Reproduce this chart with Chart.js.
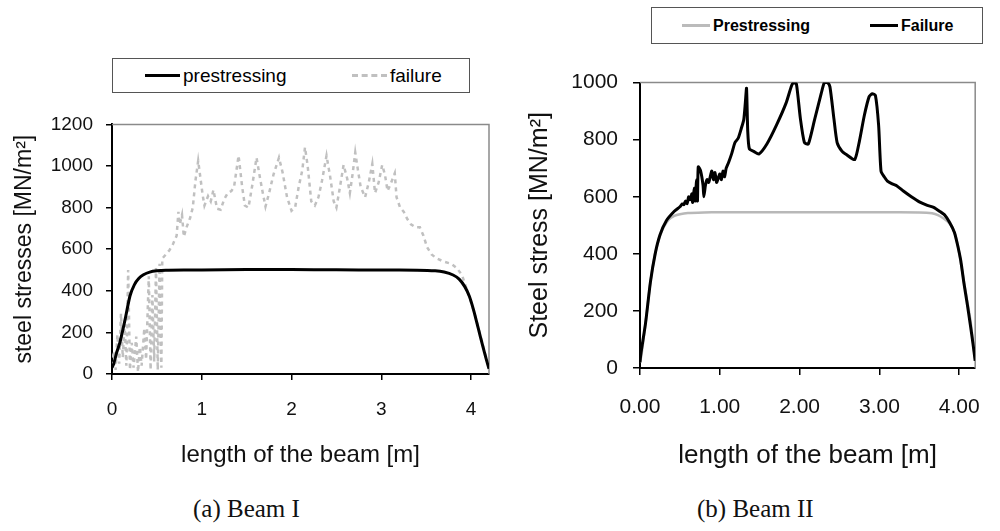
<!DOCTYPE html>
<html>
<head>
<meta charset="utf-8">
<script src="https://cdn.jsdelivr.net/npm/chart.js@4.4.1/dist/chart.umd.min.js"></script>
<style>
  body { margin: 0; background: #fff; width: 1000px; height: 531px; position: relative; overflow: hidden; }
  canvas { position: absolute; }
  .legend { position: absolute; border: 1.5px solid #555; box-sizing: border-box; background: #fff;
            font-family: 'Liberation Sans', Arial, sans-serif; color: #000; }
  .item { position: absolute; top: 0; height: 100%; display: flex; align-items: center; }
  .swatch { display: inline-block; width: 35px; height: 0; margin-right: 3px; }
  .caption { position: absolute; font-family: 'Liberation Serif', 'DejaVu Serif', serif; font-size: 25px; color: #111; }
</style>
</head>
<body>

<div class="legend" id="legA" style="left:112px; top:58px; width:358px; height:35px; font-size:19px;">
  <div class="item" style="left:32px;"><span class="swatch" style="border-top:3px solid #000;"></span>prestressing</div>
  <div class="item" style="left:239px;"><span class="swatch" style="border-top:3px dashed #c0c0c0;"></span>failure</div>
</div>
<div class="legend" id="legB" style="left:651px; top:7px; width:332px; height:37px; font-size:16px; font-weight:bold;">
  <div class="item" style="left:30px;"><span class="swatch" style="border-top:3px solid #bbb; width:28px;"></span>Prestressing</div>
  <div class="item" style="left:218px;"><span class="swatch" style="border-top:3px solid #000; width:28px;"></span>Failure</div>
</div>

<canvas id="chartA" width="500" height="380" style="left:0; top:100px;"></canvas>
<canvas id="chartB" width="500" height="425" style="left:500px; top:55px;"></canvas>

<div class="caption" style="left:193px; top:495px;">(a) Beam I</div>
<div class="caption" style="left:697px; top:495px;">(b) Beam II</div>

<script>
// Beam I
const xTicksA = [0, 1, 2, 3, 4];
const xTickLabelsA = ['0', '1', '2', '3', '4'];
const yTicksA = [0, 200, 400, 600, 800, 1000, 1200];
const yTickLabelsA = ['0', '200', '400', '600', '800', '1000', '1200'];

const presA_x = [0, 0.02, 0.05, 0.09, 0.145, 0.2, 0.25, 0.3, 0.35, 0.42, 0.5, 0.6, 0.8, 1.0, 1.5, 2.0, 2.5, 3.0, 3.4, 3.6, 3.7, 3.8, 3.87, 3.93, 3.98, 4.03, 4.08, 4.13, 4.17, 4.2];
const presA_y = [30, 50, 100, 155, 260, 375, 430, 460, 477, 490, 496, 499, 500, 500, 502, 502, 501, 500, 499, 496, 490, 476, 455, 420, 375, 305, 220, 135, 70, 25];

const failA_x = [0, 0.02, 0.04, 0.06, 0.08, 0.1, 0.12, 0.14, 0.16, 0.18, 0.2, 0.22, 0.24, 0.27, 0.29, 0.31, 0.33, 0.36, 0.38, 0.41, 0.43, 0.45, 0.47, 0.49, 0.51, 0.53, 0.55,
  0.56, 0.6, 0.64, 0.68, 0.72, 0.74, 0.755, 0.78, 0.8, 0.83, 0.87, 0.9, 0.93, 0.96, 0.98, 1.01, 1.03, 1.07, 1.1, 1.13, 1.17, 1.21, 1.25, 1.29, 1.33, 1.36,
  1.41, 1.45, 1.48, 1.52, 1.56, 1.61, 1.65, 1.68, 1.71, 1.75, 1.8, 1.86, 1.9, 1.95, 2.0, 2.04, 2.08, 2.12, 2.15, 2.18, 2.22, 2.26, 2.3, 2.34,
  2.39, 2.43, 2.47, 2.5, 2.54, 2.58, 2.62, 2.65, 2.68, 2.71, 2.74, 2.77, 2.82, 2.86, 2.9, 2.93, 2.97, 3.01, 3.04, 3.07, 3.11, 3.15, 3.17, 3.21,
  3.25, 3.29, 3.33, 3.38, 3.43, 3.47, 3.51, 3.56, 3.62, 3.7, 3.78, 3.84, 3.9, 3.95, 4.0, 4.05, 4.1, 4.15, 4.2];
const failA_y = [40, 110, 20, 190, 50, 290, 80, 240, 40, 500, 20, 150, 30, 180, 10, 130, 40, 220, 70, 470, 20, 380, 60, 510, 20, 530, 30,
  555, 575, 595, 625, 665, 780, 720, 765, 660, 705, 750, 800, 930, 1025, 960, 860, 810, 855, 830, 885, 795, 790, 840, 870, 880, 900,
  1050, 900, 810, 800, 900, 1040, 940, 870, 805, 870, 960, 1040, 970, 850, 785, 800, 900, 980, 1090, 1000, 830, 810, 850, 930,
  1050, 950, 830, 800, 900, 1005, 940, 870, 960, 1065, 980, 900, 850, 920, 1010, 870, 920, 1005, 960, 880, 920, 965, 850, 800,
  780, 745, 720, 705, 705, 665, 610, 575, 555, 540, 530, 510, 475, 410, 345, 275, 190, 110, 25];

// Beam II
const xTicksB = [0, 1, 2, 3, 4];
const xTickLabelsB = ['0.00', '1.00', '2.00', '3.00', '4.00'];
const yTicksB = [0, 200, 400, 600, 800, 1000];
const yTickLabelsB = ['0', '200', '400', '600', '800', '1000'];

const presB_x = [0, 0.02, 0.07, 0.13, 0.19, 0.25, 0.3, 0.36, 0.43, 0.5, 0.6, 0.8, 1.0, 2.0, 3.0, 3.5, 3.66, 3.74, 3.8, 3.86, 3.92, 3.98, 4.06, 4.14, 4.2];
const presB_y = [20, 48, 158, 300, 400, 462, 495, 520, 533, 539, 543, 545, 546, 546, 546, 545, 542, 535, 525, 512, 490, 433, 301, 168, 25];

const failB_x = [0, 0.01, 0.07, 0.13, 0.19, 0.25, 0.33, 0.43, 0.5, 0.53, 0.55, 0.57, 0.59, 0.61, 0.63, 0.65, 0.66, 0.68, 0.69, 0.71, 0.72, 0.73,
  0.76, 0.79, 0.8, 0.82, 0.84, 0.86, 0.88, 0.9, 0.92, 0.94, 0.96, 0.98, 1.0, 1.02, 1.04, 1.06, 1.08, 1.11, 1.15, 1.19, 1.23, 1.27, 1.3, 1.32,
  1.335, 1.35, 1.37, 1.43, 1.49, 1.59, 1.71, 1.83, 1.9, 1.93, 1.96, 2.01, 2.06, 2.11, 2.19, 2.27, 2.31, 2.35, 2.38, 2.43, 2.47, 2.53, 2.59,
  2.69, 2.75, 2.81, 2.87, 2.91, 2.95, 2.99, 3.02, 3.06, 3.1, 3.16, 3.22, 3.3, 3.4, 3.5, 3.6, 3.68, 3.76, 3.82, 3.88, 3.94, 3.98, 4.02, 4.06,
  4.1, 4.14, 4.17, 4.2];
const failB_y = [20, 48, 158, 300, 400, 466, 516, 549, 565, 575, 572, 585, 576, 600, 590, 610, 580, 630, 585, 660, 585, 705,
  690, 640, 600, 640, 660, 650, 670, 690, 660, 685, 650, 665, 680, 660, 690, 670, 700, 720, 752, 790, 805, 840, 870, 930,
  980, 830, 768, 758, 750, 785, 851, 928, 990, 1000, 995, 873, 790, 785, 873, 961, 1000, 1000, 985, 873, 790, 760, 747,
  730, 796, 884, 950, 961, 955, 850, 690, 670, 655, 645, 638, 620, 600, 582, 570, 563, 548, 535, 510, 475, 430, 375, 295,
  225, 150, 90, 25];

const sans = "'Liberation Sans', Arial, sans-serif";

function pts(xs, ys) {
  return xs.map((x, i) => ({ x: x, y: ys[i] }));
}

// grey top and right edges of the plot area
const frameLines = {
  id: 'frameLines',
  beforeDatasetsDraw(chart, args, opts) {
    const { ctx, chartArea: a } = chart;
    ctx.save();
    ctx.strokeStyle = opts.color;
    ctx.lineWidth = opts.width;
    ctx.beginPath();
    ctx.moveTo(a.left, a.top);
    ctx.lineTo(a.right, a.top);
    ctx.lineTo(a.right, a.bottom);
    ctx.stroke();
    ctx.restore();
  }
};

function makeChart(id, cfg) {
  return new Chart(document.getElementById(id), {
    type: 'line',
    data: { datasets: cfg.datasets },
    plugins: [frameLines],
    options: {
      responsive: false,
      animation: false,
      layout: { padding: cfg.padding },
      elements: { point: { radius: 0 }, line: { tension: 0.2 } },
      plugins: {
        legend: { display: false },
        tooltip: { enabled: false },
        frameLines: { color: '#8a8a8a', width: 1.5 }
      },
      scales: {
        x: {
          type: 'linear', min: 0, max: 4.2,
          afterBuildTicks: s => { s.ticks = cfg.xTicks.map(v => ({ value: v })); },
          afterFit: s => { s.height = cfg.xHeight; },
          ticks: {
            includeBounds: false, color: '#111', padding: cfg.xTickPad, maxRotation: 0,
            font: { family: sans, size: cfg.tickSize },
            callback: (v, i) => cfg.xLabels[i]
          },
          grid: { drawOnChartArea: false, drawTicks: true, tickLength: cfg.tickLen, color: '#000', lineWidth: 1.5 },
          border: { color: '#000', width: 2 },
          title: { display: true, text: 'length of the beam [m]', color: '#111',
                   font: { family: sans, size: cfg.xTitleSize }, padding: { top: 0, bottom: cfg.xTitlePad } }
        },
        y: {
          min: 0, max: cfg.yMax,
          afterBuildTicks: s => { s.ticks = cfg.yTicks.map(v => ({ value: v })); },
          afterFit: s => { s.width = cfg.yWidth; },
          ticks: { color: '#111', padding: cfg.yTickPad, font: { family: sans, size: cfg.tickSize },
                   callback: (v, i) => cfg.yLabels[i] },
          grid: { drawOnChartArea: false, drawTicks: true, tickLength: cfg.tickLen, color: '#000', lineWidth: 1.5 },
          border: { color: '#000', width: 2 },
          title: { display: true, text: cfg.yTitle, color: '#111',
                   font: { family: sans, size: cfg.yTitleSize }, padding: { top: cfg.yTitlePad, bottom: 0 } }
        }
      }
    }
  });
}

makeChart('chartA', {
  padding: { top: 6, right: 11, left: 0, bottom: 0 },
  xTicks: xTicksA, xLabels: xTickLabelsA, yTicks: yTicksA, yLabels: yTickLabelsA, yMax: 1200,
  xHeight: 106, yWidth: 112, tickLen: 6, xTickPad: 18, yTickPad: 13,
  tickSize: 19, xTitleSize: 24, yTitleSize: 23, xTitlePad: 10, yTitlePad: 11,
  yTitle: 'steel stresses [MN/m²]',
  datasets: [
    { label: 'prestressing', data: pts(presA_x, presA_y), borderColor: '#000', borderWidth: 3, order: 0 },
    { label: 'failure', data: pts(failA_x, failA_y), borderColor: '#c0c0c0', borderWidth: 2.5,
      borderDash: [4, 4], tension: 0, order: 1 }
  ]
});

makeChart('chartB', {
  padding: { top: 10, right: 7, left: 0, bottom: 0 },
  xTicks: xTicksB, xLabels: xTickLabelsB, yTicks: yTicksB, yLabels: yTickLabelsB, yMax: 1000,
  xHeight: 112, yWidth: 140, tickLen: 7, xTickPad: 20, yTickPad: 15,
  tickSize: 21, xTitleSize: 26, yTitleSize: 25, xTitlePad: 9, yTitlePad: 25,
  yTitle: 'Steel stress [MN/m²]',
  datasets: [
    { label: 'Prestressing', data: pts(presB_x, presB_y), borderColor: '#b8b8b8', borderWidth: 2.5, order: 1 },
    { label: 'Failure', data: pts(failB_x, failB_y), borderColor: '#000', borderWidth: 3, order: 0 }
  ]
});
</script>
</body>
</html>
